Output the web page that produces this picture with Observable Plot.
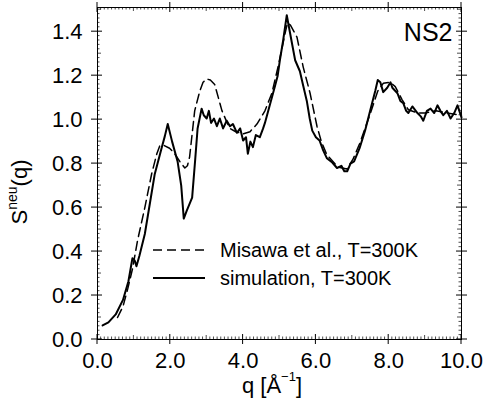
<!DOCTYPE html>
<html><head><meta charset="utf-8">
<script src="https://cdn.jsdelivr.net/npm/d3@7"></script>
<script src="https://cdn.jsdelivr.net/npm/@observablehq/plot@0.6"></script>
<style>
body{margin:0;background:#fff;}
#wrap{position:relative;width:485px;height:405px;}
</style></head><body><div id="wrap"></div>
<script>
// Simulation, T=300K (solid)
const simQ = [0.14,0.3,0.5,0.7,0.85,0.96,1.02,1.07,1.15,1.3,1.45,1.57,1.76,1.85,1.93,2.05,2.2,2.3,2.37,2.45,2.6,2.68,2.75,2.86,2.92,3.0,3.06,3.12,3.2,3.28,3.36,3.45,3.55,3.64,3.72,3.83,3.92,4.0,4.08,4.13,4.2,4.27,4.35,4.46,4.55,4.6,4.74,4.88,4.95,5.01,5.1,5.2,5.3,5.43,5.56,5.65,5.75,5.83,5.9,6.0,6.1,6.2,6.3,6.45,6.58,6.7,6.78,6.86,6.95,7.05,7.2,7.35,7.49,7.63,7.7,7.77,7.85,7.96,8.05,8.1,8.24,8.32,8.4,8.48,8.54,8.65,8.79,8.88,8.95,9.05,9.15,9.25,9.34,9.42,9.5,9.6,9.7,9.8,9.89,10.0];
const simS = [0.064,0.078,0.114,0.18,0.265,0.37,0.36,0.333,0.38,0.48,0.63,0.75,0.87,0.925,0.98,0.90,0.81,0.70,0.55,0.585,0.645,0.81,0.96,1.05,1.02,1.005,1.04,0.985,1.005,0.97,1.005,0.96,0.995,0.97,0.98,0.94,0.96,0.905,0.92,0.845,0.90,0.875,0.93,0.92,0.96,0.985,1.07,1.155,1.2,1.27,1.36,1.475,1.385,1.27,1.22,1.155,1.085,1.005,0.95,0.92,0.905,0.86,0.825,0.805,0.78,0.79,0.765,0.765,0.80,0.81,0.87,0.95,1.04,1.13,1.18,1.17,1.125,1.145,1.17,1.145,1.12,1.085,1.075,1.04,1.03,1.06,1.03,1.015,0.995,1.04,1.05,1.03,1.065,1.04,1.02,1.04,1.005,1.03,1.065,1.01];
// Misawa et al., T=300K (dashed)
const expQ = [0.55,0.7,0.83,0.96,1.1,1.3,1.49,1.63,1.71,1.8,1.98,2.1,2.26,2.4,2.47,2.53,2.67,2.81,2.9,3.0,3.1,3.22,3.32,3.42,3.55,3.64,3.8,4.0,4.19,4.38,4.6,4.79,4.96,5.05,5.15,5.22,5.3,5.48,5.65,5.84,6.03,6.15,6.3,6.6,6.85,7.02,7.2,7.5,7.7,7.85,8.04,8.18,8.37,8.54,8.8,9.0,9.3,9.6,10.0];
const expS = [0.10,0.15,0.23,0.32,0.45,0.60,0.755,0.845,0.88,0.885,0.87,0.85,0.81,0.78,0.79,0.83,1.04,1.13,1.17,1.185,1.18,1.16,1.10,1.04,0.99,0.96,0.945,0.935,0.945,0.98,1.04,1.12,1.24,1.31,1.39,1.44,1.43,1.375,1.24,1.12,0.97,0.90,0.84,0.785,0.775,0.82,0.89,1.03,1.13,1.165,1.17,1.15,1.09,1.045,1.03,1.03,1.04,1.03,1.02];

const xTicks = [0,2,4,6,8,10];
const yTicks = [0,0.2,0.4,0.6,0.8,1.0,1.2,1.4];
const xMinor = d3.range(0,101).map(i => i/10);
const yMinor = d3.range(0,76).map(i => i/50);
const legendLabels = ["Misawa et al., T=300K", "simulation, T=300K"];
const panelLabel = "NS2";

const sim = simQ.map((q,i) => ({q, s: simS[i]}));
const exp = expQ.map((q,i) => ({q, s: expS[i]}));
const FONT = "'Liberation Sans', Arial, Helvetica, sans-serif";
const fmt = d3.format(".1f");

const plot = Plot.plot({
  width: 485, height: 405,
  marginLeft: 97, marginRight: 24, marginTop: 7, marginBottom: 66,
  x: {domain: [0, 10]},
  y: {domain: [0, 1.51]},
  style: {fontFamily: FONT, color: "black", background: "white"},
  marks: [
    Plot.frame({stroke: "black", strokeWidth: 1}),
    Plot.axisX(xTicks, {anchor: "bottom", tickSize: 0, tickPadding: 13, tickFormat: fmt, label: null, fontSize: 22}),
    Plot.axisY(yTicks, {anchor: "left", tickSize: 0, tickPadding: 15, tickFormat: fmt, label: null, fontSize: 22}),
    Plot.line(exp, {x: "q", y: "s", stroke: "black", strokeWidth: 1.5, strokeDasharray: "9,5"}),
    Plot.line(sim, {x: "q", y: "s", stroke: "black", strokeWidth: 2}),
    Plot.text([panelLabel], {frameAnchor: "top-right", dx: -9, dy: 16, fontSize: 25, textAnchor: "end", lineAnchor: "top", fill: "black"})
  ]
});
document.getElementById("wrap").appendChild(plot);

const sx = plot.scale("x"), sy = plot.scale("y");
const [xl0, xr0] = sx.range, [yb0, yt0] = sy.range;
const svg = d3.select(plot);
// tick marks on all four sides, from the plot's own scales
const tg = svg.append("g").attr("stroke", "black").attr("fill", "none");
xMinor.forEach(v => {
  const x = sx.apply(v), major = xTicks.includes(v), mid = !major && Math.abs(v - Math.round(v)) < 1e-9;
  const inn = major ? 5 : mid ? 4 : 2.5, out = major ? 5 : 0, w = major ? 1 : 0.7;
  tg.append("line").attr("x1", x).attr("x2", x).attr("y1", yb0 + out).attr("y2", yb0 - inn).attr("stroke-width", w);
  tg.append("line").attr("x1", x).attr("x2", x).attr("y1", yt0 - out).attr("y2", yt0 + inn).attr("stroke-width", w);
});
yMinor.forEach(v => {
  const y = sy.apply(v), major = yTicks.some(t => Math.abs(t - v) < 1e-9), mid = !major && Math.abs(v*10 - Math.round(v*10)) < 1e-9;
  const inn = major ? 5 : mid ? 4 : 2.5, out = major ? 6 : 0, w = major ? 1 : 0.7;
  tg.append("line").attr("y1", y).attr("y2", y).attr("x1", xl0 - out).attr("x2", xl0 + inn).attr("stroke-width", w);
  tg.append("line").attr("y1", y).attr("y2", y).attr("x1", xr0 + out).attr("x2", xr0 - inn).attr("stroke-width", w);
});
// Y axis label
const yl = svg.append("text")
  .attr("transform", "translate(27,192) rotate(-90)")
  .attr("text-anchor", "middle")
  .attr("font-family", FONT).attr("font-size", 22).attr("fill", "black");
yl.append("tspan").text("S");
yl.append("tspan").attr("font-size", 14).attr("dy", "-0.75em").text("neu");
yl.append("tspan").attr("dy", "0.48em").text("(q)");
// X axis label
const xl = svg.append("text")
  .attr("x", 272).attr("y", 393)
  .attr("text-anchor", "middle")
  .attr("font-family", FONT).attr("font-size", 22).attr("fill", "black");
xl.append("tspan").text("q [Å");
xl.append("tspan").attr("font-size", 13).attr("dy", "-0.95em").text("−1");
xl.append("tspan").attr("dy", "0.56em").text("]");
// Legend
const lg = svg.append("g").attr("font-family", FONT).attr("font-size", 20).attr("fill", "black").attr("text-anchor", "start");
[["9,5", 1.5], [null, 2]].forEach(([dash, w], i) => {
  const y = 250 + i * 28;
  lg.append("line").attr("x1", 153).attr("x2", 205).attr("y1", y).attr("y2", y)
    .attr("stroke", "black").attr("stroke-width", w).attr("stroke-dasharray", dash);
  lg.append("text").attr("x", 220).attr("y", y + 7).attr("text-anchor", "start").text(legendLabels[i]);
});
</script>
</body></html>
